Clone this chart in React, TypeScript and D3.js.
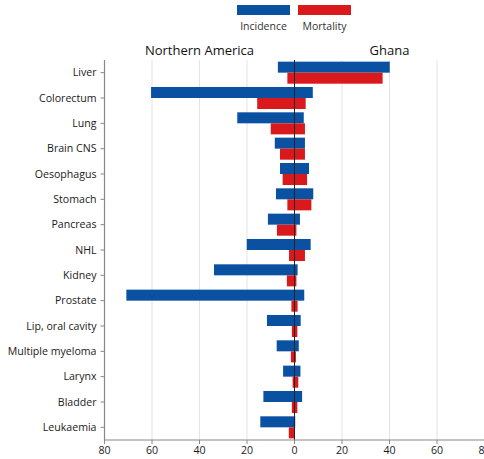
import React from "react";
import * as d3 from "d3";

// Cancer sites, top to bottom
const sites = [
  "Liver",
  "Colorectum",
  "Lung",
  "Brain CNS",
  "Oesophagus",
  "Stomach",
  "Pancreas",
  "NHL",
  "Kidney",
  "Prostate",
  "Lip, oral cavity",
  "Multiple myeloma",
  "Larynx",
  "Bladder",
  "Leukaemia",
];

// Rates per 100,000 — Northern America (drawn to the left) and Ghana (to the right)
const incidenceNorthAmerica = [7, 60.4, 24.1, 8.3, 6.1, 7.8, 11.2, 20.1, 33.9, 70.8, 11.6, 7.5, 4.8, 13.1, 14.4];
const incidenceGhana = [40.1, 7.7, 3.9, 4.4, 6.1, 7.9, 2.3, 6.8, 1.3, 4.1, 2.6, 1.8, 2.5, 3.2, 0.3];
const mortalityNorthAmerica = [3.0, 15.7, 10.0, 6.1, 5.0, 3.0, 7.4, 2.3, 3.2, 1.3, 1.1, 1.5, 0.8, 1.1, 2.4];
const mortalityGhana = [37.1, 4.7, 4.4, 4.4, 5.3, 7.1, 0.8, 4.4, 0.8, 1.3, 1.2, 0.6, 1.6, 1.2, 0.2];

const seriesNames = ["Incidence", "Mortality"];
const regionNames = ["Northern America", "Ghana"];
const xTicks = [-80, -60, -40, -20, 0, 20, 40, 60, 80];

const BLUE = "#0b51a1";
const RED = "#d9191c";
const FONT = "'Open Sans', 'Noto Sans', sans-serif";

export default function App() {
  const width = 484;
  const height = 459;
  const margin = { top: 60, right: 0, bottom: 19, left: 104.5 };

  const x = d3.scaleLinear().domain([-80, 80]).range([margin.left, width + 0.5]);
  const y = d3
    .scaleBand<string>()
    .domain(sites)
    .range([margin.top, height - margin.bottom])
    .paddingInner(0.13)
    .paddingOuter(0.065);
  const sub = d3.scaleBand<string>().domain(seriesNames).range([0, y.bandwidth()]);

  const seriesData = [
    { name: "Incidence", color: BLUE, left: incidenceNorthAmerica, right: incidenceGhana },
    { name: "Mortality", color: RED, left: mortalityNorthAmerica, right: mortalityGhana },
  ];

  const plotTop = margin.top;
  const plotBottom = height - margin.bottom;
  const fmt = (v: number) => String(Math.abs(v));

  return (
    <svg
      width={width}
      height={height}
      style={{ position: "absolute", left: 0, top: 0, background: "#fff" }}
      fontFamily={FONT}
    >
      {/* legend */}
      {seriesData.map((s, i) => {
        const lx = 237 + i * 61;
        return (
          <g key={s.name}>
            <rect x={lx} y={5} width={53} height={10} fill={s.color} />
            <text x={lx + 26.5} y={30} textAnchor="middle" fontSize={10.5} fill="#333">
              {s.name}
            </text>
          </g>
        );
      })}

      {/* region titles */}
      <text x={x(-40)} y={55} textAnchor="middle" fontSize={13} fill="#111">
        {regionNames[0]}
      </text>
      <text x={x(40)} y={55} textAnchor="middle" fontSize={13} fill="#111">
        {regionNames[1]}
      </text>

      {/* gridlines */}
      {xTicks
        .filter((t) => t !== 0 && t !== -80)
        .map((t) => (
          <line
            key={"g" + t}
            x1={x(t)}
            x2={x(t)}
            y1={plotTop}
            y2={plotBottom}
            stroke="#e3e3e3"
            strokeWidth={1}
          />
        ))}

      {/* bars */}
      {seriesData.map((s) =>
        sites.map((site, i) => (
          <rect
            key={s.name + site}
            x={x(-s.left[i])}
            width={x(s.right[i]) - x(-s.left[i])}
            y={(y(site) ?? 0) + (sub(s.name) ?? 0)}
            height={sub.bandwidth()}
            fill={s.color}
          />
        ))
      )}

      {/* zero line */}
      <line x1={x(0)} x2={x(0)} y1={plotTop} y2={plotBottom} stroke="#222" strokeWidth={1} />

      {/* y axis */}
      <line x1={margin.left} x2={margin.left} y1={plotTop} y2={plotBottom} stroke="#888" strokeWidth={1.2} />
      {sites.map((site) => {
        const cy = (y(site) ?? 0) + y.bandwidth() / 2;
        return (
          <g key={"yt" + site}>
            <line x1={margin.left - 4} x2={margin.left} y1={cy} y2={cy} stroke="#888" />
            <text x={margin.left - 8} y={cy} dy="0.35em" textAnchor="end" fontSize={10.6} fill="#1a1a1a">
              {site}
            </text>
          </g>
        );
      })}

      {/* x axis */}
      <line x1={margin.left} x2={width} y1={plotBottom} y2={plotBottom} stroke="#888" strokeWidth={1.2} />
      {xTicks.map((t) => (
        <g key={"xt" + t}>
          <line x1={x(t)} x2={x(t)} y1={plotBottom} y2={plotBottom + 4} stroke="#888" />
          <text x={x(t)} y={plotBottom + 14} textAnchor="middle" fontSize={10.6} fill="#1a1a1a">
            {fmt(t)}
          </text>
        </g>
      ))}
    </svg>
  );
}
